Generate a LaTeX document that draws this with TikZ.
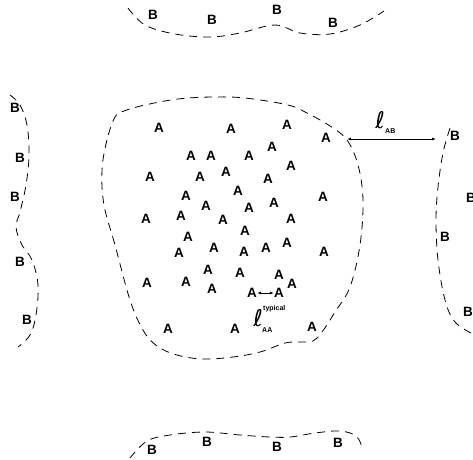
\documentclass[tikz,border=0pt]{standalone}
\usepackage{fontspec}
\setmainfont{Liberation Sans}
\newfontfamily\ellfont{DejaVu Sans}
\tikzset{
  site/.style={font=\fontsize{13.5}{14}\selectfont\bfseries, inner sep=0pt},
  sub/.style={font=\fontsize{7}{8}\selectfont\bfseries, inner sep=0pt},
  ell/.style={font=\ellfont\fontsize{23}{23}\selectfont, inner sep=0pt},
  boundary/.style={line width=0.8pt, dash pattern=on 8pt off 6pt},
  dist/.style={line width=0.8pt, {Latex[length=4pt,width=3pt]}-{Latex[length=4pt,width=3pt]}},
}
\usetikzlibrary{arrows.meta}
\begin{document}
\begin{tikzpicture}[x=1pt, y=-1pt]
    \useasboundingbox (0,0) rectangle (473,459);

    % region A
    \draw[boundary] plot[smooth cycle, tension=0.6] coordinates {
      (115,117) (107,140) (102,170) (104,205) (115,245) (130,300)
      (143,330) (157,346) (177,355) (203,359) (233,357) (260,352)
      (285,343) (300,342) (313,341) (322,332) (335,312) (350,287)
      (360,245) (363,200) (358,165) (347,140) (330,126) (307,113)
      (288,105) (245,98) (212,97) (178,99) (145,105) (124,111)};

    % neighbouring regions B
    \draw[boundary] plot[smooth, tension=0.6] coordinates {
      (128,8) (145,25) (175,34) (210,37) (240,33) (275,25)
      (300,33) (330,34) (360,25) (384,11)};
    \draw[boundary] plot[smooth, tension=0.6] coordinates {
      (10,95) (20,105) (27,125) (29,155) (26,185) (20,212)
      (16,227) (22,245) (32,260) (38,285) (36,315) (30,335) (18,347)};
    \draw[boundary] plot[smooth, tension=0.6] coordinates {
      (450,128) (443,153) (438,187) (436,220) (438,260)
      (445,300) (455,322) (473,334)};
    \draw[boundary] plot[smooth, tension=0.6] coordinates {
      (130,458) (147,441) (170,435) (205,432) (240,435) (270,437)
      (290,437) (315,433) (340,431) (356,436) (362,447)};

    \foreach \x/\y [count=\i] in {
        159/128, 231/129, 287/125, 326/138,
        191/156, 211/156, 249/156, 272/147,
        150/177, 200/177, 226/172, 268/179, 291/166,
        186/196, 238/191, 206/206, 249/208, 274/203, 323/197,
        146/219, 181/216, 223/220, 291/219,
        188/237, 245/231,
        179/253, 214/248, 244/252, 266/248, 287/243, 324/252,
        208/270, 240/273, 279/275,
        147/283, 186/282, 212/289, 292/284,
        168/329, 235/329, 312/327,
        252/293, 279/293}
      \node[site] (a\i) at (\x,\y) {A};

    \foreach \x/\y [count=\i] in {
        153/15, 212/20, 277/10, 333/23,
        15/108, 20/158, 15/197, 20/262, 27/320,
        455/136, 471/198, 445/237, 468/312,
        152/450, 207/442, 277/447, 338/443}
      \node[site] (b\i) at (\x,\y) {B};

    % distances
    \draw[dist] (a42) -- (a43);
    \coordinate (edgeA) at (347,139);
    \coordinate (edgeB) at (436,139);
    \draw[dist] (edgeA) -- (edgeB);

    \node[ell] (lAB) at (380,120) {ℓ};
    \node[sub, anchor=west] (tAB) at (385,131) {AB};
    \node[ell] (lAA) at (258,318) {ℓ};
    \node[sub, anchor=west] (tAA) at (262,330) {AA};
    \node[sub, anchor=west] (typ) at (263,309) {typical};
\end{tikzpicture}
\end{document}
